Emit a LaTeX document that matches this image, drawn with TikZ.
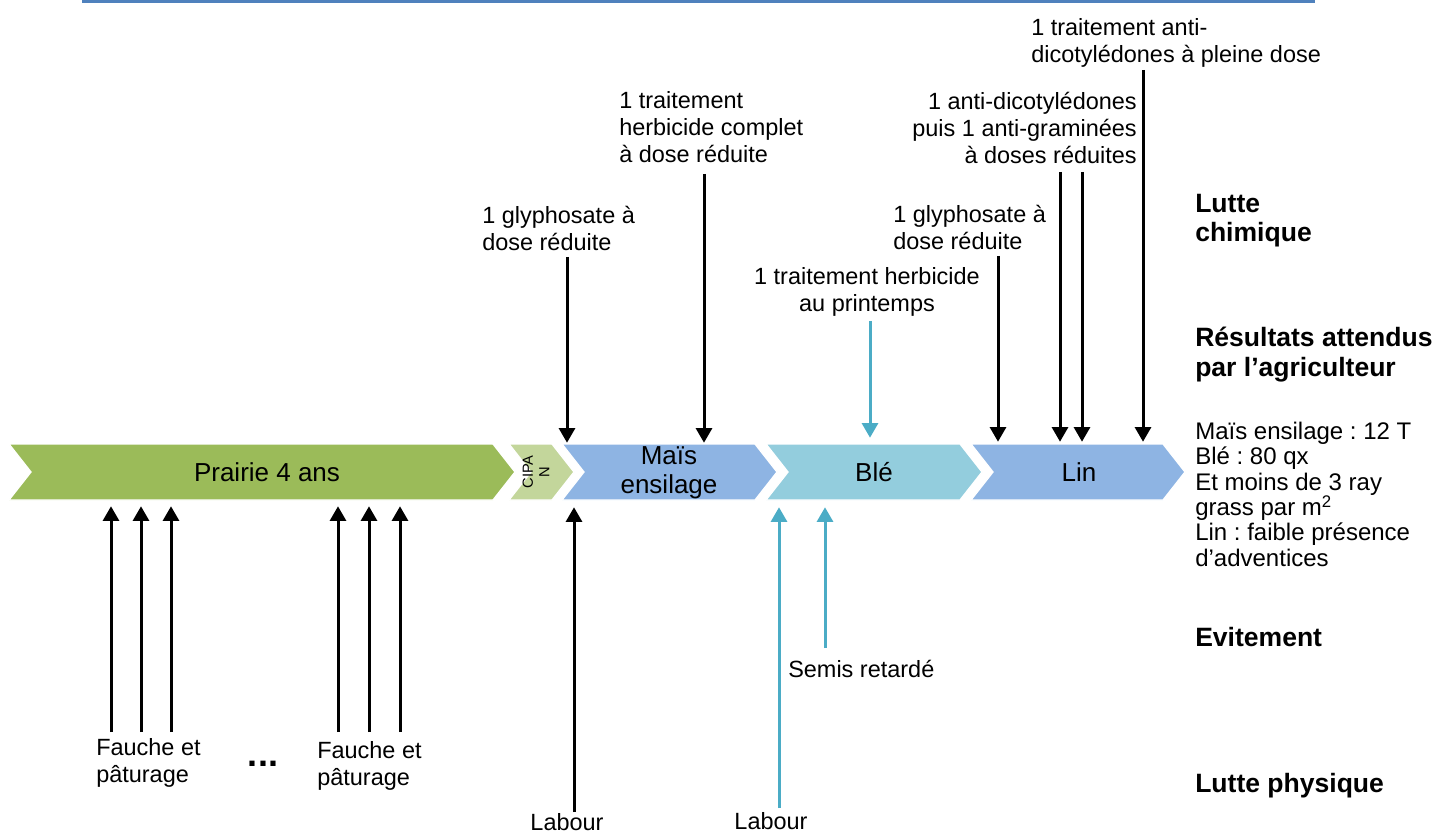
\documentclass[tikz,border=0pt]{standalone}
\usepackage{fontspec}
\setmainfont{Liberation Sans}
\usetikzlibrary{arrows.meta,calc}
\definecolor{grn}{HTML}{9BBB59}
\definecolor{lgrn}{HTML}{C3D69B}
\definecolor{blu}{HTML}{8EB4E3}
\definecolor{cyn}{HTML}{93CDDD}
\definecolor{tbl}{HTML}{4F81BD}
\definecolor{arrblue}{HTML}{4BACC6}
\frenchspacing
\begin{document}
\begin{tikzpicture}[x=0.75pt,y=-0.75pt,
  lbl/.style={font=\fontsize{17.6}{20.25}\selectfont, inner sep=0pt, align=left},
  lblc/.style={font=\fontsize{17.6}{20.25}\selectfont, inner sep=0pt, align=center},
  lblr/.style={font=\fontsize{17.6}{20.25}\selectfont, inner sep=0pt, align=right},
  head/.style={font=\fontsize{19.9}{22}\selectfont\bfseries, inner sep=0pt, align=left},
  res/.style={font=\fontsize{18}{19}\selectfont, inner sep=0pt, align=left},
  chevtext/.style={font=\fontsize{19.5}{21.75}\selectfont, inner sep=0pt, minimum height=42pt, align=center},
  arr/.style={line width=2.25pt, -{Triangle[width=12pt,length=11pt]}},
  barr/.style={arr, draw=arrblue},
  chevfill/.style={draw=white, line width=1pt}]
\useasboundingbox (0,0) rectangle (1435,834);

% fragment of the table above
\draw[tbl, line width=2.25pt] (83,-2) -- (83,2) -- (1313,2) -- (1313,-2);
\draw[tbl, line width=1.5pt] (366,-2) -- (366,2) (481,-2) -- (481,2) (1010,-2) -- (1010,2);

% chevrons
\fill[grn, chevfill] (9,444) -- (493,444) -- (515,472) -- (493,500) -- (9,500) -- (31,472) -- cycle;
\fill[lgrn, chevfill] (509,444) -- (552,444) -- (574,472) -- (552,500) -- (509,500) -- (531,472) -- cycle;
\fill[blu, chevfill] (562,444) -- (755,444) -- (777,472) -- (755,500) -- (562,500) -- (584,472) -- cycle;
\fill[cyn, chevfill] (766,444) -- (960,444) -- (982,472) -- (960,500) -- (766,500) -- (788,472) -- cycle;
\fill[blu, chevfill] (971,444) -- (1163,444) -- (1185,472) -- (1163,500) -- (971,500) -- (993,472) -- cycle;

\node[chevtext] (prairie) at (267,472) {Prairie 4 ans};
\node[inner sep=0pt, rotate=90, align=center, font=\fontsize{11}{12.5}\selectfont] (cipan) at (536,472) {CIPA\\N};
\node[chevtext] (mais) at (669,473) {Maïs\\ensilage};
\node[chevtext] (ble) at (874,472) {Blé};
\node[chevtext] (lin) at (1079,472) {Lin};

% labels above
\node[lbl, anchor=north west] (lg1) at (482,205.5) {1 glyphosate à\\dose réduite};
\node[lbl, anchor=north west] (lhc) at (619,91.5) {1 traitement\\herbicide complet\\à dose réduite};
\node[lblc, anchor=north] (lpr) at (867,267.5) {1 traitement herbicide\\au printemps};
\node[lbl, anchor=north west] (lg2) at (893,204.5) {1 glyphosate à\\dose réduite};
\node[lblr, anchor=north east] (lad) at (1137,91.5) {1 anti-dicotylédones\\puis 1 anti-graminées\\à doses réduites};
\node[lbl, anchor=north west] (lpd) at (1031,18.5) {1 traitement anti-\\dicotylédones à pleine dose};

% arrows above
\coordinate (g1) at (567,257);
\coordinate (hc) at (704,174);
\coordinate (pr) at (870,321);
\coordinate (g2) at (998,256);
\coordinate (ad1) at (1060,172);
\coordinate (ad2) at (1082,172);
\coordinate (pd) at (1143,70);
\draw[arr] (g1) -- ($(g1 |- mais.north)+(0,-2)$);
\draw[arr] (hc) -- ($(hc |- mais.north)+(0,-2)$);
\draw[barr] (pr) -- ($(pr |- ble.north)+(0,-6)$);
\draw[arr] (g2) -- ($(g2 |- lin.north)+(0,-2)$);
\draw[arr] (ad1) -- ($(ad1 |- lin.north)+(0,-2)$);
\draw[arr] (ad2) -- ($(ad2 |- lin.north)+(0,-2)$);
\draw[arr] (pd) -- ($(pd |- lin.north)+(0,-2)$);

% arrows below
\foreach \x/\n in {111/f1,141/f2,171/f3,338/f4,369/f5,400/f6}{
  \coordinate (\n) at (\x,732);
  \draw[arr] (\n) -- ($(\n |- prairie.south)+(0,6)$);
}
\coordinate (lab1) at (574,812);
\coordinate (lab2) at (779,808);
\coordinate (sem) at (825,648);
\draw[arr] (lab1) -- ($(lab1 |- mais.south)+(0,6)$);
\draw[barr] (lab2) -- ($(lab2 |- ble.south)+(0,7)$);
\draw[barr] (sem) -- ($(sem |- ble.south)+(0,7)$);

% labels below
\node[lbl, anchor=north west] (fp1) at (96,738.5) {Fauche et\\pâturage};
\node[lbl, anchor=north west] (fp2) at (317,741.5) {Fauche et\\pâturage};
\node[inner sep=0pt, anchor=base, font=\fontsize{27}{30}\selectfont\bfseries] (dots) at (263,766) {...};
\node[lbl, anchor=base west] (lsem) at (788,677) {Semis retardé};
\node[lbl, anchor=base] (llab1) at (567,830) {Labour};
\node[lbl, anchor=base] (llab2) at (771,829) {Labour};

% right column
\node[head, anchor=north west] (hchim) at (1195,194) {Lutte\\chimique};
\node[head, anchor=north west] (hres) at (1195,327) {Résultats attendus\\par l’agriculteur};
\node[res, anchor=north west] (tres) at (1195,422) {Maïs ensilage : 12 T\\Blé : 80 qx\\Et moins de 3 ray\\grass par m\textsuperscript{2}\\Lin : faible présence\\d’adventices};
\node[head, anchor=base west] (hevit) at (1195,646) {Evitement};
\node[head, anchor=base west] (hphys) at (1195,792) {Lutte physique};
\end{tikzpicture}
\end{document}
